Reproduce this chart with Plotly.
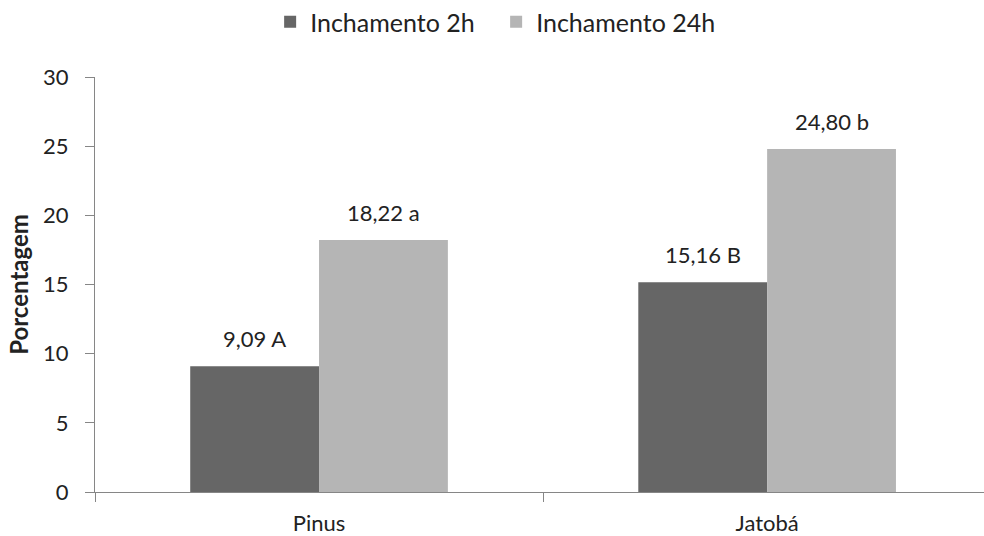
import plotly.graph_objects as go

# Swelling test results (%)
categories = ["Pinus", "Jatobá"]
series_names = ["Inchamento 2h", "Inchamento 24h"]
swelling_2h = [9.09, 15.16]
swelling_24h = [18.22, 24.80]
labels_2h = ["9,09 A", "15,16 B"]
labels_24h = ["18,22 a", "24,80 b"]
y_ticks = [0, 5, 10, 15, 20, 25, 30]

FONT = "Lato"
TEXT = "#222222"
AXIS = "#868686"
DARK = "#666666"
LIGHT = "#b5b5b5"
BARGAP = 0.425

fig = go.Figure()
fig.add_trace(go.Bar(name=series_names[0], x=categories, y=swelling_2h,
                     marker=dict(color=DARK, line=dict(width=0))))
fig.add_trace(go.Bar(name=series_names[1], x=categories, y=swelling_24h,
                     marker=dict(color=LIGHT, line=dict(width=0))))

# value labels above each bar
half = (1 - BARGAP) / 4
annotations = []
for i, cat in enumerate(categories):
    for off, vals, labs in ((-half, swelling_2h, labels_2h), (half, swelling_24h, labels_24h)):
        annotations.append(dict(
            x=i + off, y=vals[i], xref="x", yref="y", text=labs[i],
            showarrow=False, yanchor="bottom", yshift=12,
            font=dict(family=FONT, size=22, color=TEXT)))

fig.update_layout(
    width=984, height=536,
    margin=dict(l=95, r=0, t=77, b=44, autoexpand=False),
    paper_bgcolor="white", plot_bgcolor="white",
    barmode="group", bargap=BARGAP, bargroupgap=0,
    font=dict(family=FONT, size=22, color=TEXT),
    showlegend=True,
    legend=dict(orientation="h", x=0.197, xanchor="left", y=1.1325, yanchor="middle",
                font=dict(family=FONT, size=25, color=TEXT), itemwidth=30,
                entrywidth=181, entrywidthmode="pixels",
                traceorder="normal"),
    annotations=annotations,
)
fig.update_xaxes(
    type="category", range=[-0.5, 1.484], tickson="boundaries",
    showline=True, linecolor=AXIS, linewidth=1,
    ticks="outside", ticklen=9, tickcolor=AXIS, tickwidth=1,
    showgrid=False, zeroline=False, ticklabelstandoff=12,
    tickfont=dict(family=FONT, size=22, color=TEXT),
)
fig.update_yaxes(
    range=[0, 30], tickvals=y_ticks, showline=True, linecolor=AXIS, linewidth=1,
    ticks="outside", ticklen=9, tickcolor=AXIS, tickwidth=1,
    showgrid=False, zeroline=False, ticklabelstandoff=12,
    tickfont=dict(family=FONT, size=22, color=TEXT),
    title=dict(text="<b>Porcentagem</b>", standoff=7,
               font=dict(family=FONT, size=24, color=TEXT)),
)

fig.write_html("out.html")
